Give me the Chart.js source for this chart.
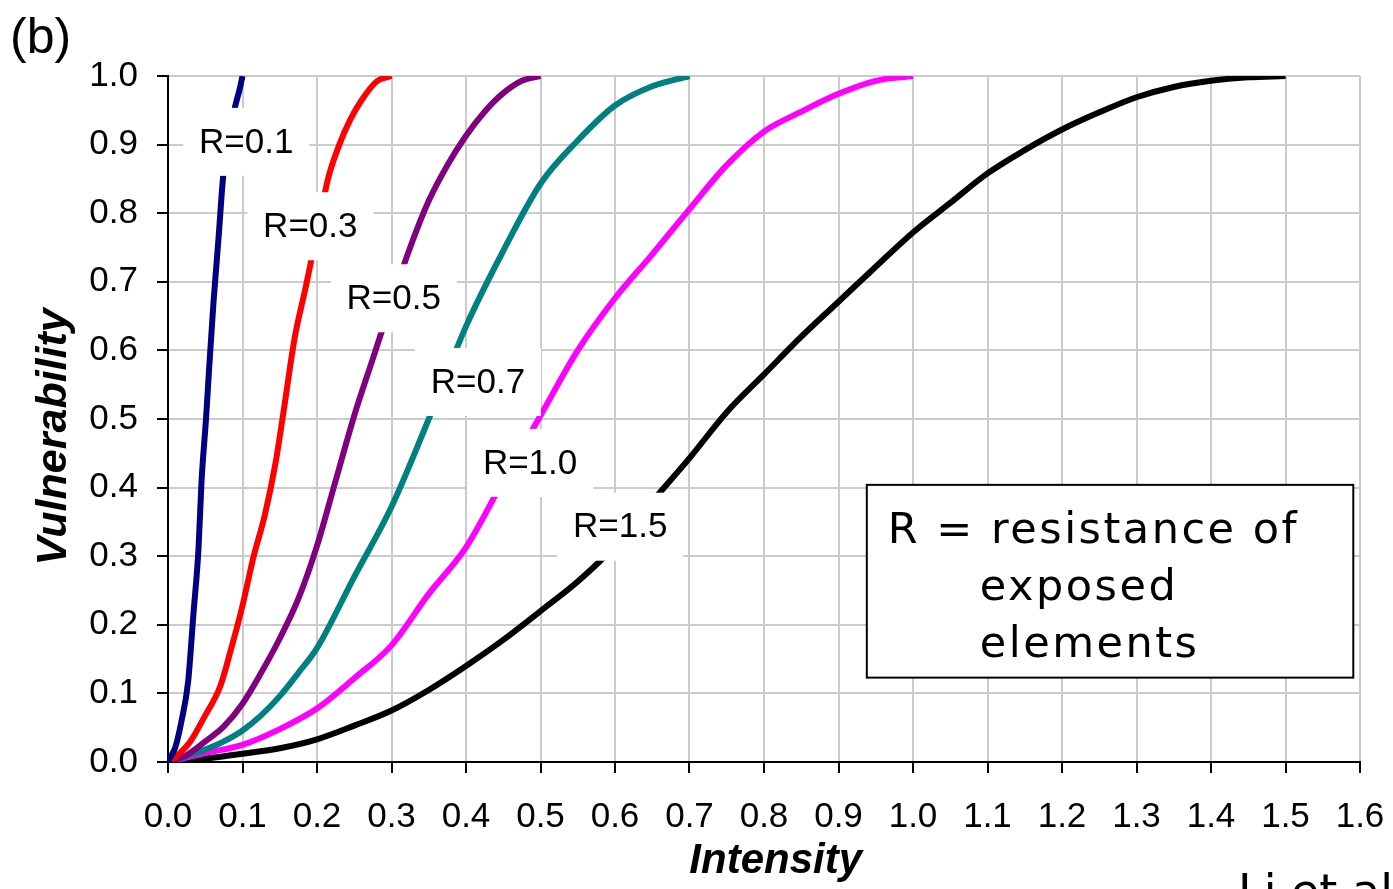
<!DOCTYPE html>
<html>
<head>
<meta charset="utf-8">
<script src="https://cdn.jsdelivr.net/npm/chart.js@4/dist/chart.umd.min.js"></script>
<style>
  html, body { margin: 0; padding: 0; background: #fff; }
  #wrap { width: 1393px; height: 889px; }
</style>
</head>
<body>
<div id="wrap"><canvas id="vulnChart" width="1393" height="889"></canvas></div>
<script>
// values (intensity -> vulnerability)
const intensityR01 = [0, 0.005, 0.01, 0.018, 0.027, 0.034, 0.041, 0.045, 0.051, 0.055, 0.061, 0.068, 0.074, 0.082, 0.09, 0.096, 0.1];
const vulnR01 = [0, 0.01, 0.022, 0.059, 0.117, 0.214, 0.312, 0.409, 0.5, 0.57, 0.669, 0.766, 0.853, 0.91, 0.955, 0.98, 1.0];

const intensityR03 = [0, 0.015, 0.03, 0.05, 0.07, 0.085, 0.1, 0.115, 0.13, 0.145, 0.155, 0.17, 0.185, 0.2, 0.215, 0.23, 0.245, 0.26, 0.28, 0.3];
const vulnR03 = [0, 0.012, 0.03, 0.068, 0.11, 0.166, 0.228, 0.3, 0.36, 0.44, 0.51, 0.618, 0.693, 0.772, 0.851, 0.9, 0.937, 0.965, 0.992, 1.0];

const intensityR05 = [0, 0.025, 0.05, 0.075, 0.1, 0.125, 0.15, 0.175, 0.2, 0.225, 0.25, 0.275, 0.3, 0.325, 0.35, 0.375, 0.4, 0.425, 0.45, 0.475, 0.5];
const vulnR05 = [0, 0.01, 0.03, 0.052, 0.085, 0.13, 0.18, 0.238, 0.315, 0.41, 0.505, 0.588, 0.671, 0.75, 0.818, 0.87, 0.913, 0.948, 0.975, 0.993, 1.0];

const intensityR07 = [0, 0.025, 0.05, 0.075, 0.1, 0.125, 0.15, 0.175, 0.2, 0.25, 0.3, 0.35, 0.4, 0.45, 0.5, 0.55, 0.6, 0.65, 0.7];
const vulnR07 = [0, 0.008, 0.018, 0.03, 0.046, 0.068, 0.096, 0.13, 0.166, 0.27, 0.372, 0.5, 0.635, 0.745, 0.843, 0.906, 0.957, 0.985, 1.0];

const intensityR10 = [0, 0.05, 0.1, 0.15, 0.2, 0.25, 0.3, 0.35, 0.4, 0.45, 0.5, 0.55, 0.6, 0.65, 0.7, 0.75, 0.8, 0.85, 0.9, 0.95, 1.0];
const vulnR10 = [0, 0.013, 0.025, 0.048, 0.078, 0.122, 0.17, 0.245, 0.313, 0.41, 0.505, 0.6, 0.676, 0.74, 0.806, 0.87, 0.919, 0.948, 0.974, 0.993, 1.0];

const intensityR15 = [0, 0.05, 0.1, 0.15, 0.2, 0.25, 0.3, 0.35, 0.4, 0.45, 0.5, 0.55, 0.6, 0.65, 0.7, 0.75, 0.8, 0.85, 0.9, 0.95, 1.0, 1.05, 1.1, 1.15, 1.2, 1.25, 1.3, 1.35, 1.4, 1.45, 1.5];
const vulnR15 = [0, 0.005, 0.012, 0.02, 0.033, 0.053, 0.075, 0.105, 0.14, 0.178, 0.22, 0.263, 0.315, 0.38, 0.443, 0.51, 0.565, 0.62, 0.671, 0.722, 0.772, 0.815, 0.858, 0.892, 0.922, 0.947, 0.969, 0.984, 0.993, 0.998, 1.0];

const curveNames = ["R=0.1", "R=0.3", "R=0.5", "R=0.7", "R=1.0", "R=1.5"];
const curveColors = ["#000080", "#ff0000", "#800080", "#008080", "#ff00ff", "#000000"];
const curveX = [intensityR01, intensityR03, intensityR05, intensityR07, intensityR10, intensityR15];
const curveY = [vulnR01, vulnR03, vulnR05, vulnR07, vulnR10, vulnR15];

// where the R= labels sit, in data units
const labelX = [0.105, 0.191, 0.303, 0.416, 0.486, 0.607];
const labelY = [0.904, 0.781, 0.676, 0.554, 0.436, 0.343];

const noteLines = ["R = resistance of", "exposed", "elements"];

const tickFont = "'Liberation Sans', Arial, sans-serif";

const annotations = {
  id: "annotations",
  afterDatasetsDraw(chart) {
    const { ctx, scales: { x, y } } = chart;
    ctx.save();

    // curve labels on white boxes
    ctx.font = "35px " + tickFont;
    ctx.textAlign = "center";
    ctx.textBaseline = "middle";
    curveNames.forEach((name, i) => {
      const cx = x.getPixelForValue(labelX[i]);
      const cy = y.getPixelForValue(labelY[i]);
      ctx.fillStyle = "#fff";
      ctx.fillRect(cx - 63, cy - 34, 126, 68);
      ctx.fillStyle = "#000";
      ctx.fillText(name, cx, cy + 1);
    });

    // note box
    const bx = x.getPixelForValue(0.938);
    const by = y.getPixelForValue(0.404);
    const bw = x.getPixelForValue(1.591) - bx;
    const bh = y.getPixelForValue(0.123) - by;
    ctx.fillStyle = "#fff";
    ctx.fillRect(bx, by, bw, bh);
    ctx.strokeStyle = "#000";
    ctx.lineWidth = 2;
    ctx.strokeRect(bx, by, bw, bh);
    ctx.fillStyle = "#000";
    ctx.textAlign = "left";
    ctx.textBaseline = "alphabetic";
    ctx.font = "43px 'DejaVu Sans', sans-serif";
    ctx.letterSpacing = "2.5px";
    ctx.fillText(noteLines[0], bx + 21, by + 58);
    ctx.fillText(noteLines[1], bx + 113, by + 115);
    ctx.fillText(noteLines[2], bx + 113, by + 172);

    // panel letter and cut-off caption
    ctx.letterSpacing = "0px";
    ctx.font = "50px " + tickFont;
    ctx.fillText("(b)", 10, 53);
    ctx.font = "46px 'DejaVu Sans', sans-serif";
    ctx.fillText("Li et al.", 1238, 907);

    ctx.restore();
  }
};

const ctx = document.getElementById("vulnChart").getContext("2d");

new Chart(ctx, {
  type: "line",
  data: {
    datasets: curveNames.map((name, i) => ({
      label: name,
      data: curveX[i].map((v, j) => ({ x: v, y: curveY[i][j] })),
      borderColor: curveColors[i],
      borderWidth: 6,
      pointRadius: 0,
      fill: false,
      cubicInterpolationMode: "monotone"
    }))
  },
  options: {
    responsive: false,
    animation: false,
    devicePixelRatio: 1,
    layout: { padding: { top: 76, right: 33, left: 0, bottom: 0 } },
    plugins: {
      legend: { display: false },
      tooltip: { enabled: false }
    },
    scales: {
      x: {
        type: "linear",
        min: 0,
        max: 1.6,
        afterFit(scale) {
          scale.height = 127;
          scale.paddingLeft = 0;
          scale.paddingRight = 0;
        },
        ticks: {
          stepSize: 0.1,
          autoSkip: false,
          maxRotation: 0,
          padding: 23,
          color: "#000",
          font: { family: tickFont, size: 35 },
          callback: v => v.toFixed(1)
        },
        grid: { color: "#cbcbcb", lineWidth: 2, tickColor: "#000", tickLength: 11, tickWidth: 2 },
        border: { color: "#000", width: 2 },
        title: {
          display: true,
          text: "  Intensity",
          color: "#000",
          padding: { top: 0, bottom: 2 },
          font: { family: tickFont, size: 42, weight: "bold", style: "italic" }
        }
      },
      y: {
        min: 0,
        max: 1,
        afterFit(scale) {
          scale.width = 168;
          scale.paddingTop = 0;
          scale.paddingBottom = 0;
        },
        ticks: {
          stepSize: 0.1,
          padding: 19,
          color: "#000",
          font: { family: tickFont, size: 35 },
          callback: v => v.toFixed(1)
        },
        grid: { color: "#cbcbcb", lineWidth: 2, tickColor: "#000", tickLength: 11, tickWidth: 2 },
        border: { color: "#000", width: 2 },
        title: {
          display: true,
          text: "Vulnerability   ",
          color: "#000",
          padding: { top: 28, bottom: 0 },
          font: { family: tickFont, size: 43, weight: "bold", style: "italic" }
        }
      }
    }
  },
  plugins: [annotations]
});
</script>
</body>
</html>
